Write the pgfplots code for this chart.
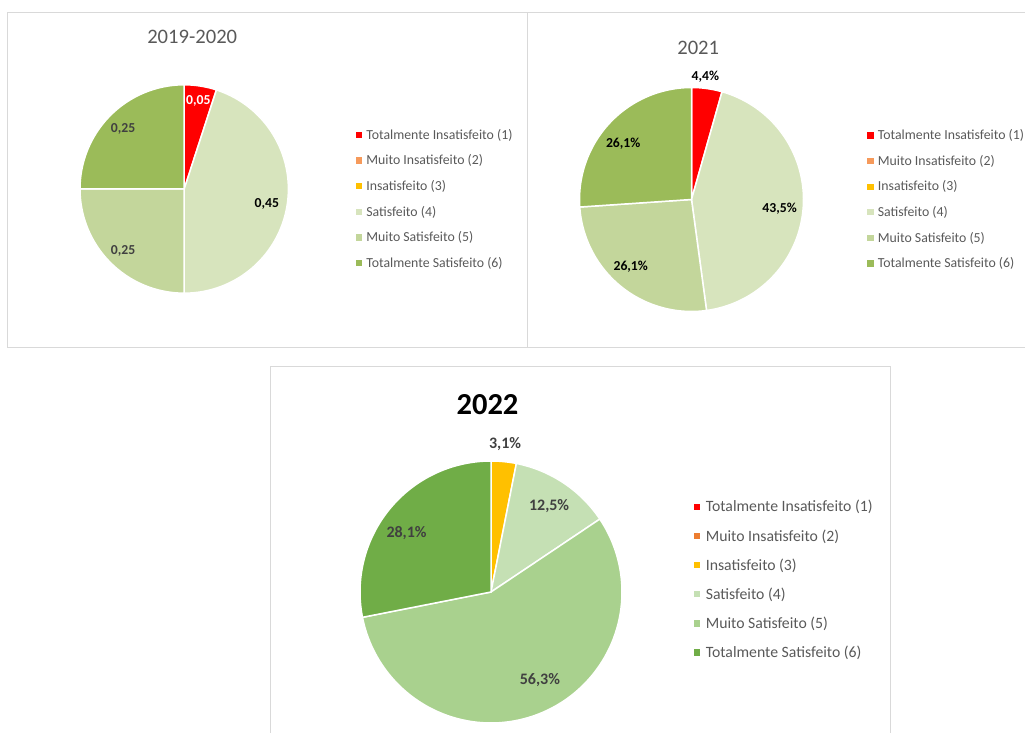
\documentclass[border=0pt]{standalone}
\usepackage{fontspec}
\setmainfont{Carlito}
\usepackage{pgfplots}
\usepackage{pgfplotstable}
\pgfplotsset{compat=1.18}

% colours
\definecolor{rA}{HTML}{FF0000}
\definecolor{oA}{HTML}{F69A5B}
\definecolor{yA}{HTML}{FFC000}
\definecolor{sA}{HTML}{D7E4BD}
\definecolor{mA}{HTML}{C3D69B}
\definecolor{tA}{HTML}{9BBB59}
\definecolor{rC}{HTML}{FF0000}
\definecolor{oC}{HTML}{ED7D31}
\definecolor{yC}{HTML}{FFC000}
\definecolor{sC}{HTML}{C5E0B4}
\definecolor{mC}{HTML}{A9D18E}
\definecolor{tC}{HTML}{70AD47}
\definecolor{labgray}{HTML}{404040}
\definecolor{leggray}{HTML}{595959}
\definecolor{framegray}{HTML}{D9D9D9}

% val = share, lr = label radius, shift = label angle offset
\pgfplotstableread{
val  lr    shift col lab  lc
0.05 0.865 0     rA  0,05 white
0    0     0     oA  -    black
0    0     0     yA  -    black
0.45 0.805 -0.6  sA  0,45 black
0.25 0.83  0     mA  0,25 labgray
0.25 0.83  0     tA  0,25 labgray
}\tabA

\pgfplotstableread{
val  lr    shift col lab  lc
4.4  1.11  1.5   rA  4,4  black
0    0     0     oA  -    black
0    0     0     yA  -    black
43.5 0.79  -1.5  sA  43,5 black
26.1 0.80  -3.5  mA  26,1 black
26.1 0.79  3.6   tA  26,1 black
}\tabB

\pgfplotstableread{
val  lr    shift col lab  lc
0    0     0     rC  -    black
0    0     0     oC  -    black
3.1  1.144 0.2   yC  3,1  labgray
12.5 0.80  0     sC  12,5 labgray
56.3 0.76  6.9   mC  56,3 labgray
28.1 0.79  4.1   tC  28,1 labgray
}\tabC

\newcommand\labfontA{\fontsize{13.7}{16}\bfseries\selectfont}
\newcommand\labfontC{\fontsize{16}{19}\bfseries\selectfont}

% #1 table, #2 label suffix, #3 label font
\newcommand\pieslices[3]{%
  \pgfplotstablegetrowsof{#1}%
  \pgfmathtruncatemacro\nrows{\pgfplotsretval-1}%
  \def\total{0}%
  \pgfplotsforeachungrouped \rowi in {0,...,\nrows}{%
    \pgfplotstablegetelem{\rowi}{val}\of{#1}%
    \pgfmathsetmacro\total{\total+\pgfplotsretval}%
  }%
  \def\acc{90}%
  \pgfplotsforeachungrouped \rowi in {0,...,\nrows}{%
    \pgfplotstablegetelem{\rowi}{val}\of{#1}\let\sval\pgfplotsretval
    \pgfplotstablegetelem{\rowi}{lr}\of{#1}\let\lrad\pgfplotsretval
    \pgfplotstablegetelem{\rowi}{shift}\of{#1}\let\lshift\pgfplotsretval
    \pgfplotstablegetelem{\rowi}{col}\of{#1}\let\scol\pgfplotsretval
    \pgfplotstablegetelem{\rowi}{lab}\of{#1}\let\slab\pgfplotsretval
    \pgfplotstablegetelem{\rowi}{lc}\of{#1}\let\slc\pgfplotsretval
    \pgfmathsetmacro\aend{\acc-\sval/\total*360}%
    \pgfmathtruncatemacro\haspart{\sval>0}%
    \ifnum\haspart>0
      \pgfmathsetmacro\amid{(\acc+\aend)/2+\lshift}%
      \pgfmathsetmacro\lx{\lrad*cos(\amid)}%
      \pgfmathsetmacro\ly{\lrad*sin(\amid)}%
      \edef\temp{%
        \noexpand\addplot[forget plot, fill=\scol, draw=white, line width=1.5pt,
          domain=\aend:\acc, samples=90] ({cos(x)},{sin(x)}) -- (axis cs:0,0) -- cycle;
        \noexpand\node[text=\slc, font=\noexpand#3, text depth=0pt, anchor=center]
          at (axis cs:\lx,\ly) {\slab\noexpand#2};}%
      \temp
    \fi
    \let\acc\aend
  }%
}

\pgfplotsset{
  pie/.style={
    scale only axis, hide axis, clip=false,
    xmin=-1, xmax=1, ymin=-1, ymax=1,
    anchor=center,
    legend cell align=left,
    legend image code/.code={\fill[##1, draw=none] (0pt,-3.15pt) rectangle (6.3pt,3.15pt);},
  },
  legA/.style={
    legend style={draw=none, fill=none, inner sep=0pt, outer sep=0pt,
      row sep=12.6pt, column sep=4.3pt, anchor=north west,
      nodes={inner sep=0pt, outer sep=0pt, text height=10.8pt, text depth=2.2pt,
        text=leggray, font=\fontsize{13.8}{16}\selectfont}},
  },
  legC/.style={
    legend style={draw=none, fill=none, inner sep=0pt, outer sep=0pt,
      row sep=14.1pt, column sep=5.5pt, anchor=north west,
      nodes={inner sep=0pt, outer sep=0pt, text height=12.4pt, text depth=2.6pt,
        text=leggray, font=\fontsize{15.75}{18}\selectfont}},
  },
}

\begin{document}
\begin{tikzpicture}
\path[use as bounding box] (0pt,0pt) rectangle (1025pt,733pt);

% panel frames
\draw[framegray, line width=1pt] (7.3pt,720.7pt) rectangle (527pt,385pt);
\draw[framegray, line width=1pt] (1025pt,720.7pt) -- (527pt,720.7pt) -- (527pt,385pt) -- (1025pt,385pt);
\draw[framegray, line width=1pt] (270.7pt,0pt) -- (270.7pt,366pt) -- (890pt,366pt) -- (890pt,0pt);

% titles
\node[anchor=base, text=leggray, font=\fontsize{20.6}{24}\selectfont] at (192.2pt,689.8pt) {2019-2020};
\node[anchor=base, text=leggray, font=\fontsize{20.6}{24}\selectfont] at (698.2pt,678.8pt) {2021};
\node[anchor=base, text=black, font=\fontsize{30.5}{36}\bfseries\selectfont] at (487.5pt,318.4pt) {2022};

% 2019-2020
\begin{axis}[pie, legA, at={(184.2pt,544pt)}, width=208.4pt, height=208.4pt,
  legend style={at={(axis description cs:1.3229,0.7903)}}]
\addlegendimage{fill=rA}\addlegendentry{Totalmente Insatisfeito (1)}
\addlegendimage{fill=oA}\addlegendentry{Muito Insatisfeito (2)}
\addlegendimage{fill=yA}\addlegendentry{Insatisfeito (3)}
\addlegendimage{fill=sA}\addlegendentry{Satisfeito (4)}
\addlegendimage{fill=mA}\addlegendentry{Muito Satisfeito (5)}
\addlegendimage{fill=tA}\addlegendentry{Totalmente Satisfeito (6)}
\pieslices{\tabA}{\relax}{\labfontA}
\end{axis}

% 2021
\begin{axis}[pie, legA, at={(691.5pt,533.5pt)}, width=224pt, height=224pt,
  legend style={at={(axis description cs:1.2848,0.8147)}}]
\addlegendimage{fill=rA}\addlegendentry{Totalmente Insatisfeito (1)}
\addlegendimage{fill=oA}\addlegendentry{Muito Insatisfeito (2)}
\addlegendimage{fill=yA}\addlegendentry{Insatisfeito (3)}
\addlegendimage{fill=sA}\addlegendentry{Satisfeito (4)}
\addlegendimage{fill=mA}\addlegendentry{Muito Satisfeito (5)}
\addlegendimage{fill=tA}\addlegendentry{Totalmente Satisfeito (6)}
\pieslices{\tabB}{\%}{\labfontA}
\end{axis}

% 2022
\begin{axis}[pie, legC, at={(491pt,141pt)}, width=262pt, height=262pt,
  legend style={at={(axis description cs:1.2748,0.853)}}]
\addlegendimage{fill=rC}\addlegendentry{Totalmente Insatisfeito (1)}
\addlegendimage{fill=oC}\addlegendentry{Muito Insatisfeito (2)}
\addlegendimage{fill=yC}\addlegendentry{Insatisfeito (3)}
\addlegendimage{fill=sC}\addlegendentry{Satisfeito (4)}
\addlegendimage{fill=mC}\addlegendentry{Muito Satisfeito (5)}
\addlegendimage{fill=tC}\addlegendentry{Totalmente Satisfeito (6)}
\pieslices{\tabC}{\%}{\labfontC}
\end{axis}
\end{tikzpicture}
\end{document}
